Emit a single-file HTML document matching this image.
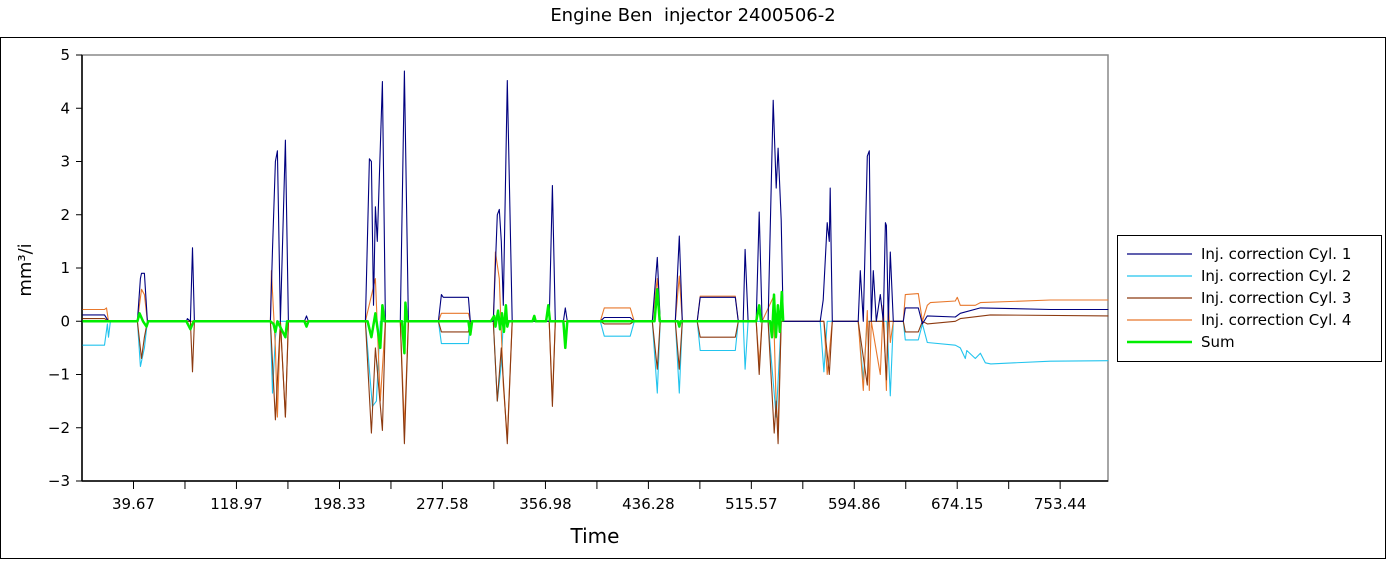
<!DOCTYPE html>
<html><head><meta charset="utf-8"><style>
body{margin:0;background:#fff;width:1387px;height:560px;overflow:hidden;font-family:"Liberation Sans","DejaVu Sans",sans-serif}
svg text{font-family:"DejaVu Sans","Liberation Sans",sans-serif}
</style></head><body>
<svg id="chart" width="1387" height="560">
<rect x="0.5" y="37.5" width="1385" height="521" fill="none" stroke="#000"/>
<text x="693" y="21" text-anchor="middle" font-size="18" style="white-space:pre" xml:space="preserve">Engine Ben  injector 2400506-2</text>
<text x="595" y="543" text-anchor="middle" font-size="20">Time</text>
<text transform="translate(31,270) rotate(-90)" text-anchor="middle" font-size="18">mm³/i</text>
<g id="plot"></g>
<g id="legend"></g>
</svg>
<script>
const xTicks=[39.67,118.97,198.33,277.58,356.98,436.28,515.57,594.86,674.15,753.44];
const yTicks=[5,4,3,2,1,0,-1,-2,-3];
const seriesNames=["Inj. correction Cyl. 1","Inj. correction Cyl. 2","Inj. correction Cyl. 3","Inj. correction Cyl. 4","Sum"];
const c1T=[0.4,17.3,20.4,42.7,45.0,45.8,48.1,50.4,80.4,81.2,83.5,85.1,86.6,145.1,146.7,149.0,150.5,152.8,156.7,159.0,171.3,172.9,174.4,218.3,221.4,222.9,224.5,226.0,227.5,231.4,233.7,245.2,248.3,251.4,274.5,276.8,278.3,297.6,299.1,316.8,319.9,321.4,323.0,324.5,327.6,331.4,359.9,362.3,364.6,370.8,372.3,373.8,399.2,402.3,422.3,425.4,439.3,443.1,445.4,457.0,460.1,462.4,473.9,476.2,503.2,505.5,509.3,510.8,513.1,519.3,521.6,523.9,528.5,532.4,534.7,536.2,538.6,540.1,568.6,570.9,574.0,575.6,576.3,577.9,597.9,599.5,601.8,604.9,606.4,608.0,609.5,611.8,614.9,617.2,618.8,619.6,621.1,622.6,624.9,632.6,634.2,644.2,647.3,651.1,672.7,676.5,692.0,745.9,790.5];
const c1V=[.12,.12,0,0,.8,.9,.9,0,0,.05,0,1.38,0,0,1.35,3.0,3.2,0,3.4,0,0,.1,0,0,3.05,3.0,.3,2.15,1.5,4.5,0,0,4.7,0,0,.5,.45,.45,0,0,2.0,2.1,1.5,.3,4.52,0,0,2.55,0,0,.25,0,0,.07,.07,0,0,1.2,0,0,1.6,0,0,.45,.45,0,0,1.35,0,0,2.05,0,0,4.15,2.5,3.25,1.9,0,0,.4,1.85,1.5,2.5,0,0,.95,0,3.1,3.2,0,.95,0,.5,0,1.85,1.8,0,1.3,0,0,.25,.25,-.05,.1,.08,.15,.25,.22,.22];
const c2T=[0.4,17.3,19.6,20.4,21.9,42.7,45.0,48.1,50.4,145.1,146.7,149.0,150.5,218.3,223.7,226.8,229.8,274.5,276.8,297.6,299.1,316.8,319.9,323.0,324.5,399.2,402.3,422.3,425.4,439.3,443.1,445.4,457.0,460.1,462.4,473.9,476.2,503.2,505.5,509.3,510.8,513.1,528.5,534.7,538.6,568.6,571.5,574.0,597.9,601.8,604.9,620,622.6,624.9,632.6,634.2,644.2,647.3,651.1,672.7,676.5,680.4,681.5,688.1,692.0,695.8,700,745.9,790.5];
const c2V=[-.45,-.45,-.05,-.3,0,0,-.85,-.5,0,0,-1.35,-.3,0,0,-1.6,-1.5,0,0,-.42,-.42,0,0,-1.5,-.8,0,0,-.28,-.28,0,0,-1.35,0,0,-1.35,0,0,-.55,-.55,0,0,-.9,0,0,-1.8,0,0,-.95,0,0,-1.1,0,0,-1.4,0,0,-.35,-.35,-.05,-.4,-.45,-.5,-.7,-.55,-.7,-.6,-.78,-.8,-.75,-.74];
const c3T=[0.4,17.3,20.4,42.7,45.8,48.1,50.4,83.5,85.1,86.6,145.1,149.0,152.8,156.7,159.0,218.3,222.9,226.0,231.4,233.7,245.2,248.3,251.4,274.5,276.8,297.6,299.1,316.8,319.9,323.0,327.6,331.4,359.9,362.3,364.6,399.2,402.3,422.3,425.4,439.3,443.1,445.4,457.0,460.1,462.4,473.9,476.2,503.2,505.5,519.3,521.6,523.9,528.5,533.2,534.7,536.2,538.6,571.5,575.6,577.9,597.9,604.9,606.4,617.2,619.6,621.1,632.6,634.2,644.2,647.3,651.1,672.7,676.5,699.7,790.5];
const c3V=[.05,.05,0,0,-.7,-.3,0,0,-.95,0,0,-1.85,0,-1.8,0,0,-2.1,-.5,-2.05,0,0,-2.3,0,0,-.2,-.2,0,0,-1.5,-.5,-2.3,0,0,-1.6,0,0,-.05,-.05,0,0,-.9,0,0,-.9,0,0,-.3,-.3,0,0,-1.0,0,0,-2.1,-1.5,-2.3,0,0,-1.0,0,0,-1.2,0,0,-1.1,0,0,-.2,-.2,0,-.05,0,.05,.12,.1];
const c4T=[0.4,17.3,18.9,20.4,42.7,45.8,48.1,50.4,145.1,145.9,149.0,150.5,152.8,156.7,159.0,218.3,226.0,229.8,233.7,245.2,248.3,251.4,274.5,276.8,297.6,299.1,316.8,318.4,321.4,324.5,327.6,331.4,359.9,362.3,364.6,399.2,402.3,422.3,425.4,439.3,443.1,445.4,457.0,460.1,462.4,473.9,476.2,503.2,505.5,519.3,521.6,523.9,532.4,534.7,536.2,538.6,571.5,574.0,577.9,597.9,601.8,604.9,606.4,608.0,614.9,617.2,619.6,621.1,622.6,624.9,632.6,634.2,644.2,647.3,651.1,653.4,672.7,674.2,676.5,688.1,692.0,745.9,790.5];
const c4V=[.22,.22,.25,0,0,.6,.5,0,0,.95,-.5,-1.8,0,-1.8,0,0,.8,-1.5,0,0,-2.0,0,0,.15,.15,0,0,1.3,.8,-1.2,-2.2,0,0,-1.5,0,0,.25,.25,0,0,.8,0,0,.85,0,0,.47,.47,0,0,-.8,0,.45,-1.6,-2.0,0,0,-1.0,0,0,-1.3,.2,-1.3,0,-1.0,.3,-1.3,.4,-.4,0,0,.5,.52,0,.3,.35,.38,.45,.3,.3,.35,.4,.4];
const sumT=[0.4,42.7,44.3,47,49.7,51,80.4,83.5,86,145.1,147.5,149.0,150.5,156.7,158,171.3,172.9,174.4,220,222.9,226.0,229.8,231.4,233,246.5,248.3,249.1,250.5,297.6,299.1,300.5,315,317.5,318.5,320.5,322,323.5,325,326.5,327.6,328.5,347,348.4,349.5,357.5,359.2,360.5,370.8,372.3,373.8,441,443.1,445,459,460.1,461,519.3,521.6,523,530,531.5,533,534.5,536,537.5,539,540.1];
const sumV=[0,0,.15,0,-.1,0,0,-.15,0,0,-.05,-.2,0,-.3,0,0,-.1,0,0,-.3,.15,-.5,.3,0,0,-.6,.35,0,0,-.25,0,0,.1,-.1,.2,-.15,.15,-.2,.3,-.1,0,0,.1,0,0,.3,0,0,-.5,0,0,.6,0,0,-.1,0,0,.3,0,0,-.3,.5,-.3,.3,-.2,.55,0];
const colors=["#00007f","#22c4ee","#8c3a10","#e8782c","#00ee00"];
const L=82,R=1108,T=55,B=481,xMax=790.3,yMin=-3,yMax=5;
const sx=t=>L+(t/xMax)*(R-L);
const sy=v=>B-(v-yMin)/(yMax-yMin)*(B-T);
const NS="http://www.w3.org/2000/svg";
const plot=document.getElementById('plot');
function mk(tag,attrs,parent){const e=document.createElementNS(NS,tag);for(const k in attrs)e.setAttribute(k,attrs[k]);(parent||plot).appendChild(e);return e;}
const frame=mk('rect',{x:L,y:T,width:R-L,height:B-T,fill:'#fff',stroke:'#888','stroke-width':1.5});


const ya=mk('line',{x1:L,y1:T,x2:L,y2:B,stroke:'#000','stroke-width':1.5});


const xa=mk('line',{x1:L,y1:B,x2:R,y2:B,stroke:'#000','stroke-width':1.5});


yTicks.forEach(v=>{
  const y=sy(v);
  const tk=mk('line',{x1:L-6,y1:y,x2:L,y2:y,stroke:'#000'});
  
  
  const tx=mk('text',{x:L-12,y:y+5,'text-anchor':'end','font-size':15});
  tx.textContent=v<0?'\u2212'+(-v):String(v);
  
  
});
const step=xTicks[1]-xTicks[0];
xTicks.forEach(v=>{
  const x=sx(v);
  const tk=mk('line',{x1:x,y1:B,x2:x,y2:B+8,stroke:'#000'});
  
  
  const x2=sx(v+step/2);
  if(x2<R){const mt=mk('line',{x1:x2,y1:B,x2:x2,y2:B+8,stroke:'#000'});
  
  }
  const tx=mk('text',{x:x,y:B+28,'text-anchor':'middle','font-size':15});
  tx.textContent=v.toFixed(2);
  
  
});
const allT=[c1T,c2T,c3T,c4T,sumT],allV=[c1V,c2V,c3V,c4V,sumV];
const order=[1,3,2,0,4];
order.forEach(i=>{
  const pts=allT[i].map((t,j)=>sx(t).toFixed(1)+','+sy(allV[i][j]).toFixed(1)).join(' ');
  const p=mk('polyline',{points:pts,fill:'none',stroke:colors[i],'stroke-width':i==4?2.5:1.1,'stroke-linejoin':'round'});
  
  
});
const lg=document.getElementById('legend');
const box=mk('rect',{x:1117.5,y:235.5,width:264,height:126,fill:'#fff',stroke:'#000'},lg);


seriesNames.forEach((n,i)=>{
  const y=254+i*22;
  const ln=mk('line',{x1:1127,y1:y,x2:1192,y2:y,stroke:colors[i],'stroke-width':i==4?2.5:1.2},lg);
  
  
  const tx=mk('text',{x:1201,y:y+5,'font-size':15},lg);
  tx.textContent=n;
  
  
});
</script>
</body></html>
